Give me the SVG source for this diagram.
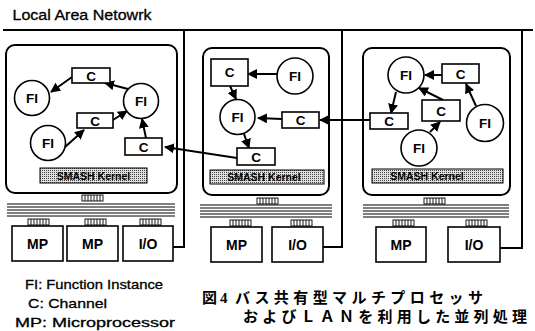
<svg xmlns="http://www.w3.org/2000/svg" width="535" height="331" viewBox="0 0 535 331">
<style>
.frame{fill:none;stroke:#000;stroke-width:2}
.box{fill:#fff;stroke:#000;stroke-width:1.6}
.fi{fill:#fff;stroke:#000;stroke-width:1.6}
.t{font-family:"Liberation Sans",Arial,sans-serif;fill:#000;text-anchor:middle}
.lbl{font-size:13.5px;font-weight:bold}
.big{font-size:14px;font-weight:bold}
.ker{font-size:10.5px;font-weight:bold}
.leg{font-family:"Liberation Sans",Arial,sans-serif;font-size:13px;fill:#000;stroke:#000;stroke-width:0.3}
.jp{font-family:"Liberation Serif","Noto Sans CJK JP",serif;font-size:15px;font-weight:bold;fill:#000}
.conn line,.conn path{stroke:#000;stroke-width:2;fill:none}
.arr{stroke:#000;stroke-width:2;fill:none;marker-end:url(#ah)}
.bus line{stroke:#000;stroke-width:1.1}
.comb{fill:none;stroke:#000;stroke-width:0.9}
.kern{fill:url(#dots);stroke:#000;stroke-width:1}
</style>
<defs>
<marker id="ah" viewBox="0 0 10 10" refX="9" refY="5" markerWidth="5" markerHeight="5" orient="auto" markerUnits="strokeWidth">
<path d="M0,0 L10,5 L0,10 z" fill="#000"/>
</marker>
<pattern id="dots" width="2" height="2" patternUnits="userSpaceOnUse">
<rect width="2" height="2" fill="#e0e0e0"/>
<rect width="1" height="1" fill="#444"/>
</pattern>
<g id="comb6"><rect class="comb" x="0" y="0" width="21" height="6"/><path class="comb" d="M3,0V6M6,0V6M9,0V6M12,0V6M15,0V6M18,0V6"/></g>
</defs>
<rect width="535" height="331" fill="#fff"/>

<g id="lan">
<line x1="3" y1="30" x2="533" y2="30" stroke="#000" stroke-width="2.2"/>
<text class="t" x="82" y="20" font-size="14" textLength="139" lengthAdjust="spacingAndGlyphs" stroke="#000" stroke-width="0.3">Local Area Netowrk</text>
</g>

<!-- connectors -->
<g id="connectors" class="conn">
<path d="M173,247 H184 V30"/>
<path d="M323,247 H342 V30"/>
<path d="M500,248 H522 V30"/>
<!-- node 1 internal -->
<line class="arr" x1="72" y1="77" x2="51" y2="92"/>
<line class="arr" x1="128" y1="89" x2="105" y2="83"/>
<line class="arr" x1="65" y1="147" x2="84" y2="130"/>
<line class="arr" x1="113" y1="120" x2="127" y2="111"/>
<line class="arr" x1="146" y1="138" x2="142" y2="119"/>
<!-- node 2 internal -->
<line class="arr" x1="277" y1="74" x2="248" y2="74"/>
<line class="arr" x1="230" y1="86" x2="236" y2="99"/>
<line class="arr" x1="282" y1="119" x2="258" y2="118"/>
<line class="arr" x1="244" y1="134" x2="249" y2="148"/>
<!-- node 3 internal -->
<line class="arr" x1="442" y1="75" x2="425" y2="75"/>
<line class="arr" x1="396" y1="92" x2="391" y2="113"/>
<line class="arr" x1="443" y1="100" x2="419" y2="88"/>
<line class="arr" x1="476" y1="106" x2="466" y2="84"/>
<line class="arr" x1="430" y1="132" x2="440" y2="122"/>
<!-- inter-node -->
<line class="arr" x1="370" y1="120" x2="320" y2="120" stroke-width="2.4"/>
<line class="arr" x1="237" y1="158" x2="165" y2="147" stroke-width="2.4"/>
</g>

<!-- ===== Node 1 ===== -->
<g id="node1">
<rect class="frame" x="6" y="45" width="171" height="148" rx="9"/>
<g id="n1-c1"><rect class="box" x="72" y="68" width="38" height="15"/><text class="t lbl" x="91" y="80.5">C</text></g>
<g id="n1-fi1"><circle class="fi" cx="32" cy="98" r="17.5"/><text class="t lbl" x="32" y="103">FI</text></g>
<g id="n1-fi2"><circle class="fi" cx="141" cy="101" r="17.5"/><text class="t lbl" x="141" y="106">FI</text></g>
<g id="n1-c2"><rect class="box" x="77" y="113" width="36" height="15"/><text class="t lbl" x="95" y="125.5">C</text></g>
<g id="n1-fi3"><circle class="fi" cx="48" cy="143" r="17.5"/><text class="t lbl" x="48" y="148">FI</text></g>
<g id="n1-c3"><rect class="box" x="125" y="138" width="37" height="17"/><text class="t lbl" x="143.5" y="151.5">C</text></g>
<g id="n1-kernel"><rect class="kern" x="40" y="168" width="107" height="15"/><text class="t ker" x="93.5" y="179.5">SMASH Kernel</text></g>
<g id="n1-bus" class="bus">
<use href="#comb6" x="82" y="195"/>
<line x1="7" y1="204" x2="175" y2="204"/><line x1="7" y1="207" x2="175" y2="207"/><line x1="7" y1="210" x2="175" y2="210"/><line x1="7" y1="213" x2="175" y2="213"/><line x1="7" y1="216" x2="175" y2="216"/>
<use href="#comb6" x="28" y="219"/><use href="#comb6" x="85" y="219"/><use href="#comb6" x="140" y="219"/>
</g>
<g id="n1-mp1"><rect class="box" x="12" y="226" width="51" height="35"/><text class="t big" x="37.5" y="249">MP</text></g>
<g id="n1-mp2"><rect class="box" x="67" y="226" width="51" height="35"/><text class="t big" x="92.5" y="249">MP</text></g>
<g id="n1-io"><rect class="box" x="123" y="226" width="50" height="35"/><text class="t big" x="148" y="249">I/O</text></g>
</g>

<!-- ===== Node 2 ===== -->
<g id="node2">
<rect class="frame" x="203" y="48" width="126" height="147" rx="9"/>
<g id="n2-c1"><rect class="box" x="211" y="59" width="37" height="27"/><text class="t lbl" x="229.5" y="77">C</text></g>
<g id="n2-fi1"><circle class="fi" cx="295" cy="76" r="18"/><text class="t lbl" x="295" y="81">FI</text></g>
<g id="n2-fi2"><circle class="fi" cx="237.5" cy="117" r="17.5"/><text class="t lbl" x="237.5" y="122">FI</text></g>
<g id="n2-c2"><rect class="box" x="282" y="112" width="37" height="16"/><text class="t lbl" x="300.5" y="125">C</text></g>
<g id="n2-c3"><rect class="box" x="237" y="148" width="38" height="17"/><text class="t lbl" x="256" y="161.5">C</text></g>
<g id="n2-kernel"><rect class="kern" x="210" y="170" width="114" height="14"/><text class="t ker" x="264" y="181">SMASH Kernel</text></g>
<g id="n2-bus" class="bus">
<use href="#comb6" x="257" y="198"/>
<line x1="200" y1="205" x2="332" y2="205"/><line x1="200" y1="208" x2="332" y2="208"/><line x1="200" y1="211" x2="332" y2="211"/><line x1="200" y1="214" x2="332" y2="214"/><line x1="200" y1="217" x2="332" y2="217"/>
<use href="#comb6" x="230" y="220"/><use href="#comb6" x="291" y="220"/>
</g>
<g id="n2-mp"><rect class="box" x="211" y="227" width="51" height="35"/><text class="t big" x="236.5" y="250">MP</text></g>
<g id="n2-io"><rect class="box" x="272" y="227" width="51" height="35"/><text class="t big" x="297.5" y="250">I/O</text></g>
</g>

<!-- ===== Node 3 ===== -->
<g id="node3">
<rect class="frame" x="363" y="48" width="147" height="147" rx="9"/>
<g id="n3-fi1"><circle class="fi" cx="406" cy="75" r="18"/><text class="t lbl" x="406" y="80">FI</text></g>
<g id="n3-c1"><rect class="box" x="442" y="64" width="37" height="19"/><text class="t lbl" x="460.5" y="78.5">C</text></g>
<g id="n3-c2"><rect class="box" x="370" y="113" width="38" height="16"/><text class="t lbl" x="389" y="126">C</text></g>
<g id="n3-c3"><rect class="box" x="422" y="100" width="38" height="21"/><text class="t lbl" x="441" y="115.5">C</text></g>
<g id="n3-fi2"><circle class="fi" cx="485" cy="123" r="18.5"/><text class="t lbl" x="485" y="128">FI</text></g>
<g id="n3-fi3"><circle class="fi" cx="419" cy="148" r="18"/><text class="t lbl" x="419" y="153">FI</text></g>
<g id="n3-kernel"><rect class="kern" x="372" y="169" width="131" height="14"/><text class="t ker" x="427" y="180">SMASH Kernel</text></g>
<g id="n3-bus" class="bus">
<use href="#comb6" x="424" y="198"/>
<line x1="363" y1="205" x2="509" y2="205"/><line x1="363" y1="208" x2="509" y2="208"/><line x1="363" y1="211" x2="509" y2="211"/><line x1="363" y1="214" x2="509" y2="214"/><line x1="363" y1="217" x2="509" y2="217"/>
<use href="#comb6" x="393" y="220"/><use href="#comb6" x="466" y="220"/>
</g>
<g id="n3-mp"><rect class="box" x="376" y="227" width="50" height="35"/><text class="t big" x="401" y="250">MP</text></g>
<g id="n3-io"><rect class="box" x="448" y="227" width="52" height="35"/><text class="t big" x="474" y="250">I/O</text></g>
</g>

<!-- legend -->
<g id="legend">
<text class="leg" x="25" y="289" textLength="138" lengthAdjust="spacingAndGlyphs">FI: Function Instance</text>
<text class="leg" x="28" y="308" textLength="79" lengthAdjust="spacingAndGlyphs">C: Channel</text>
<text class="leg" x="15" y="327" textLength="160" lengthAdjust="spacingAndGlyphs">MP: Microprocessor</text>
</g>

<!-- caption -->
<g id="caption">
<text class="jp" x="202" y="303">図<tspan dx="3">4</tspan></text>
<text class="jp" x="235" y="303" textLength="248" lengthAdjust="spacing">バス共有型マルチプロセッサ</text>
<text class="jp" x="243" y="322" textLength="284" lengthAdjust="spacing">およびＬＡＮを利用した並列処理</text>
</g>
</svg>
